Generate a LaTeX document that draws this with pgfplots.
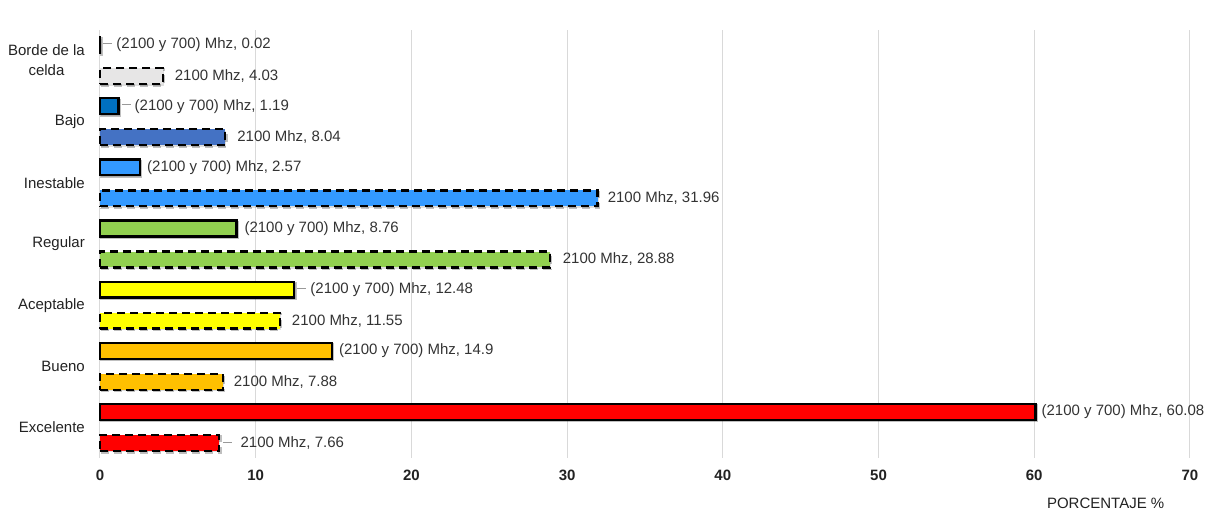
\documentclass[border=0pt]{standalone}
\usepackage{fontspec}
\setmainfont{Liberation Sans}
\usepackage{pgfplots}
\pgfplotsset{compat=1.18}
\usetikzlibrary{shadows}

\definecolor{lblc}{HTML}{333333}
\definecolor{catc}{HTML}{222222}
\definecolor{gridc}{HTML}{D9D9D9}
\definecolor{cBordeA}{HTML}{BFBFBF}
\definecolor{cBordeB}{HTML}{E7E6E6}
\definecolor{cBajoA}{HTML}{0070C0}
\definecolor{cBajoB}{HTML}{4472C4}
\definecolor{cInest}{HTML}{3399FF}
\definecolor{cReg}{HTML}{92D050}
\definecolor{cAcep}{HTML}{FFFF00}
\definecolor{cBueno}{HTML}{FFC000}
\definecolor{cExc}{HTML}{FF0000}

\newcommand{\lfont}{\fontsize{15}{18}\selectfont}
\newcommand{\leader}{\textcolor{gray!80}{\rule[0.33em]{9pt}{0.9pt}}\hspace{4pt}}
\newcommand{\val}{\pgfmathprintnumber[fixed, precision=2, assume math mode=true]{\pgfplotspointmeta}}

\pgfplotsset{
  A/.style={xbar, bar shift=0.254, bar width=0.26, draw=black, line width=2.3pt, fill=#1,
            drop shadow={shadow xshift=1.2pt, shadow yshift=-1.5pt, opacity=0.25}},
  B/.style={xbar, bar shift=-0.254, bar width=0.26, draw=black, line width=2.3pt,
            dash pattern=on 8pt off 5pt, fill=#1,
            drop shadow={shadow xshift=1.2pt, shadow yshift=-1.5pt, opacity=0.25}},
  LA/.style 2 args={point meta=x,
     nodes near coords={#2(2100 y 700) Mhz, \val},
     every node near coord/.style={anchor=west, xshift=#1, yshift=15.5pt, font=\lfont, text=lblc, inner sep=0pt, solid}},
  LB/.style 2 args={point meta=x,
     nodes near coords={#2 2100 Mhz, \val},
     every node near coord/.style={anchor=west, xshift=#1, yshift=-15.5pt, font=\lfont, text=lblc, inner sep=0pt, solid}},
}

\begin{document}
\begin{tikzpicture}
\begin{axis}[
  scale only axis,
  width=1110pt, height=428pt,
  xmin=0, xmax=71.29, ymin=-0.5, ymax=6.5,
  axis line style={draw=none},
  xtick={0,10,...,70},
  xmajorgrids,
  grid style={draw=gridc, line width=1pt},
  major tick length=0pt,
  ytick={0,...,6},
  yticklabels={Excelente,Bueno,Aceptable,Regular,Inestable,Bajo,{Borde de la\\celda}},
  yticklabel style={align=center, font=\fontsize{15}{20}\selectfont, text=catc, anchor=east, inner sep=0pt, xshift=-15pt},
  xticklabel style={font=\lfont\bfseries, text=catc, anchor=center, yshift=-17pt, /pgf/number format/assume math mode=true},
  xlabel={PORCENTAJE \%},
  x label style={at={(axis description cs:0.906,0)}, anchor=center, yshift=-45pt, font=\lfont, text=catc},
  clip=false,
]
% (2100 y 700) Mhz
\addplot[A=cBordeA, LA={2pt}{\leader}] coordinates {(0.02,6)};
\addplot[A=cBajoA,  LA={2pt}{\leader}] coordinates {(1.19,5)};
\addplot[A=cInest,  LA={6pt}{}] coordinates {(2.57,4)};
\addplot[A=cReg,    LA={7pt}{}] coordinates {(8.76,3)};
\addplot[A=cAcep,   LA={2pt}{\leader}] coordinates {(12.48,2)};
\addplot[A=cBueno,  LA={6pt}{}] coordinates {(14.9,1)};
\addplot[A=cExc,    LA={5pt}{}] coordinates {(60.08,0)};
% 2100 Mhz
\addplot[B=cBordeB, LB={11pt}{}] coordinates {(4.03,6)};
\addplot[B=cBajoB,  LB={11pt}{}] coordinates {(8.04,5)};
\addplot[B=cInest,  LB={9pt}{}] coordinates {(31.96,4)};
\addplot[B=cReg,    LB={12pt}{}] coordinates {(28.88,3)};
\addplot[B=cAcep,   LB={11pt}{}] coordinates {(11.55,2)};
\addplot[B=cBueno,  LB={10pt}{}] coordinates {(7.88,1)};
\addplot[B=cExc,    LB={3pt}{\leader}] coordinates {(7.66,0)};
\end{axis}
\pgfresetboundingbox
\path (current axis.south west) ++(-100pt,-51pt) rectangle ([shift={(5pt,30pt)}]current axis.north east);
\end{tikzpicture}
\end{document}
